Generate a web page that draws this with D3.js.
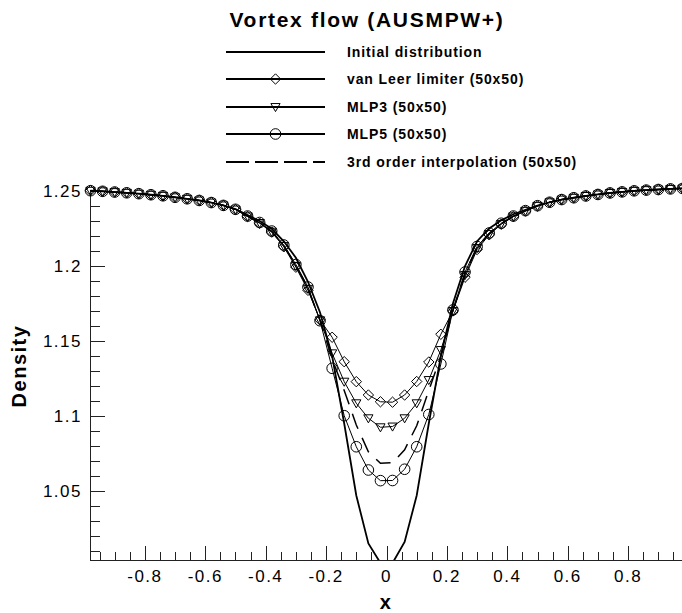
<!DOCTYPE html>
<meta charset="utf-8">
<script src="https://d3js.org/d3.v7.min.js"></script>
<style>
body { margin: 0; background: #fff; }
text { font-family: "Liberation Sans", Arial, sans-serif; fill: #000; }
.tick-label { font-size: 17px; letter-spacing: 1.5px; }
.axis-title { font-size: 20px; font-weight: bold; letter-spacing: 1.5px; }
.legend-text { font-size: 14px; font-weight: bold; letter-spacing: 0.9px; }
</style>
<div id="chart"></div>
<script>

// cell centres of the 50x50 grid
var xs = [-0.98, -0.94, -0.90, -0.86, -0.82, -0.78, -0.74, -0.70, -0.66, -0.62,
          -0.58, -0.54, -0.50, -0.46, -0.42, -0.38, -0.34, -0.30, -0.26, -0.22,
          -0.18, -0.14, -0.10, -0.06, -0.02,  0.02,  0.06,  0.10,  0.14,  0.18,
           0.22,  0.26,  0.30,  0.34,  0.38,  0.42,  0.46,  0.50,  0.54,  0.58,
           0.62,  0.66,  0.70,  0.74,  0.78,  0.82,  0.86,  0.90,  0.94,  0.98];

var initial = [1.2502, 1.2498, 1.2493, 1.2488, 1.2482, 1.2475, 1.2468, 1.2458, 1.2448, 1.2437,
               1.2423, 1.2404, 1.2380, 1.2340, 1.2300, 1.2248, 1.2165, 1.2055, 1.1895, 1.1690,
               1.1400, 1.0950, 1.0470, 1.0150, 1.0020, 1.0020, 1.0160, 1.0470, 1.0950, 1.1400,
               1.1750, 1.2000, 1.2165, 1.2250, 1.2305, 1.2345, 1.2375, 1.2402, 1.2425, 1.2443,
               1.2455, 1.2467, 1.2477, 1.2487, 1.2494, 1.2501, 1.2506, 1.2510, 1.2514, 1.2517];

var vanLeer = [1.2502, 1.2498, 1.2493, 1.2488, 1.2482, 1.2475, 1.2468, 1.2458, 1.2448, 1.2437,
               1.2423, 1.2404, 1.2376, 1.2330, 1.2285, 1.2226, 1.2128, 1.1992, 1.1838, 1.1640,
               1.1525, 1.1362, 1.1229, 1.1140, 1.1095, 1.1092, 1.1140, 1.1230, 1.1360, 1.1545,
               1.1700, 1.1925, 1.2110, 1.2208, 1.2278, 1.2329, 1.2366, 1.2400, 1.2425, 1.2443,
               1.2455, 1.2467, 1.2477, 1.2487, 1.2494, 1.2501, 1.2506, 1.2510, 1.2514, 1.2517];

var mlp3 = [1.2502, 1.2498, 1.2493, 1.2488, 1.2482, 1.2475, 1.2468, 1.2458, 1.2448, 1.2437,
            1.2423, 1.2404, 1.2377, 1.2331, 1.2287, 1.2229, 1.2134, 1.2000, 1.1848, 1.1638,
            1.1418, 1.1229, 1.1085, 1.0985, 1.0925, 1.0930, 1.0985, 1.1085, 1.1240, 1.1440,
            1.1700, 1.1940, 1.2120, 1.2213, 1.2281, 1.2331, 1.2368, 1.2401, 1.2425, 1.2443,
            1.2455, 1.2467, 1.2477, 1.2487, 1.2494, 1.2501, 1.2506, 1.2510, 1.2514, 1.2517];

var mlp5 = [1.2502, 1.2498, 1.2493, 1.2488, 1.2482, 1.2475, 1.2468, 1.2458, 1.2448, 1.2437,
            1.2423, 1.2404, 1.2378, 1.2333, 1.2290, 1.2233, 1.2140, 1.2010, 1.1860, 1.1635,
            1.1318, 1.1002, 1.0795, 1.0640, 1.0569, 1.0570, 1.0645, 1.0795, 1.1010, 1.1347,
            1.1707, 1.1960, 1.2130, 1.2220, 1.2285, 1.2333, 1.2369, 1.2402, 1.2425, 1.2443,
            1.2455, 1.2467, 1.2477, 1.2487, 1.2494, 1.2501, 1.2506, 1.2510, 1.2514, 1.2517];

var third = [1.2502, 1.2498, 1.2493, 1.2488, 1.2482, 1.2475, 1.2468, 1.2458, 1.2448, 1.2437,
             1.2423, 1.2404, 1.2377, 1.2332, 1.2288, 1.2231, 1.2137, 1.2005, 1.1853, 1.1637,
             1.1380, 1.1170, 1.0940, 1.0762, 1.0685, 1.0688, 1.0775, 1.0935, 1.1170, 1.1400,
             1.1705, 1.1952, 1.2126, 1.2217, 1.2283, 1.2332, 1.2368, 1.2401, 1.2425, 1.2443,
             1.2455, 1.2467, 1.2477, 1.2487, 1.2494, 1.2501, 1.2506, 1.2510, 1.2514, 1.2517];

var xTicks = [-0.8, -0.6, -0.4, -0.2, 0, 0.2, 0.4, 0.6, 0.8];
var yTicks = [1.05, 1.1, 1.15, 1.2, 1.25];

var series = [
  {name: "Initial distribution",          values: initial, marker: null,       dash: null,    width: 1.8},
  {name: "van Leer limiter (50x50)",      values: vanLeer, marker: "diamond",  dash: null,    width: 1},
  {name: "MLP3 (50x50)",                  values: mlp3,    marker: "triangle", dash: null,    width: 1},
  {name: "MLP5 (50x50)",                  values: mlp5,    marker: "circle",   dash: null,    width: 1},
  {name: "3rd order interpolation (50x50)", values: third, marker: null,       dash: "16,10", width: 1.5}
];

var W = 682, H = 613;

var svg = d3.select("#chart")
  .append("svg")
    .attr("width", W)
    .attr("height", H);

var x = d3.scaleLinear()
  .domain([-0.98, 0.98])
  .range([90.5, 682.5]);

var y = d3.scaleLinear()
  .domain([1.004, 1.25])
  .range([560, 191]);

// clip only the bottom (the initial profile drops below the axis)
svg.append("clipPath").attr("id", "clip")
  .append("rect")
    .attr("x", 85).attr("y", 0)
    .attr("width", 600).attr("height", 560);

// axes: left and bottom only, ticks pointing in
var axisColor = "#222";
svg.append("line")
  .attr("x1", 90.5).attr("x2", 90.5).attr("y1", 190).attr("y2", 560)
  .attr("stroke", axisColor).attr("stroke-width", 1);
svg.append("line")
  .attr("x1", 90).attr("x2", 682).attr("y1", 560.5).attr("y2", 560.5)
  .attr("stroke", axisColor).attr("stroke-width", 1);

var yMinor = d3.range(101, 126).map(function(d) { return d / 100; });
svg.append("g").selectAll("line")
  .data(yMinor)
  .enter().append("line")
    .attr("x1", 90)
    .attr("x2", function(d) { return Math.round(d * 100) % 5 === 0 ? 105 : 100; })
    .attr("y1", function(d) { return Math.round(y(d)) + 0.5; })
    .attr("y2", function(d) { return Math.round(y(d)) + 0.5; })
    .attr("stroke", axisColor);

var xMinor = d3.range(-19, 20).map(function(d) { return d * 0.05; });
svg.append("g").selectAll("line")
  .data(xMinor)
  .enter().append("line")
    .attr("x1", function(d) { return Math.round(x(d)) + 0.5; })
    .attr("x2", function(d) { return Math.round(x(d)) + 0.5; })
    .attr("y1", 560)
    .attr("y2", function(d) { return Math.abs(Math.round(d * 20)) % 4 === 0 ? 546 : 552; })
    .attr("stroke", axisColor);

svg.append("g").selectAll("text")
  .data(yTicks)
  .enter().append("text")
    .attr("class", "tick-label")
    .attr("x", 82)
    .attr("y", function(d) { return y(d) + 6; })
    .attr("text-anchor", "end")
    .text(function(d) { return String(d); });

svg.append("g").selectAll("text")
  .data(xTicks)
  .enter().append("text")
    .attr("class", "tick-label")
    .attr("x", function(d) { return x(d); })
    .attr("y", 582)
    .attr("text-anchor", "middle")
    .text(function(d) { return String(d); });

svg.append("text")
  .attr("class", "axis-title")
  .attr("transform", "translate(26,366) rotate(-90)")
  .attr("text-anchor", "middle")
  .text("Density");

svg.append("text")
  .attr("class", "axis-title")
  .attr("x", 386)
  .attr("y", 609)
  .attr("text-anchor", "middle")
  .text("x");

// markers
function drawMarker(g, type, cx, cy) {
  if (type === "circle") {
    g.append("circle").attr("cx", cx).attr("cy", cy).attr("r", 5.3)
      .attr("fill", "none").attr("stroke", "#000").attr("stroke-width", 1);
  } else if (type === "diamond") {
    var s = 5.2;
    g.append("path")
      .attr("d", "M" + cx + "," + (cy - s) + "L" + (cx + s) + "," + cy + "L" + cx + "," + (cy + s) + "L" + (cx - s) + "," + cy + "Z")
      .attr("fill", "none").attr("stroke", "#000").attr("stroke-width", 1);
  } else if (type === "triangle") {
    var h = 4.6;
    g.append("path")
      .attr("d", "M" + (cx - h) + "," + (cy - h * 0.75) + "L" + (cx + h) + "," + (cy - h * 0.75) + "L" + cx + "," + (cy + h) + "Z")
      .attr("fill", "none").attr("stroke", "#000").attr("stroke-width", 1);
  }
}

var line = d3.line()
  .x(function(d, i) { return x(xs[i]); })
  .y(function(d) { return y(d); });

var plot = svg.append("g").attr("clip-path", "url(#clip)");

series.forEach(function(s) {
  plot.append("path")
    .datum(s.values)
    .attr("d", line)
    .attr("fill", "none")
    .attr("stroke", "#000")
    .attr("stroke-width", s.width)
    .attr("stroke-dasharray", s.dash);
  if (s.marker) {
    var g = svg.append("g");
    s.values.forEach(function(v, i) { drawMarker(g, s.marker, x(xs[i]), y(v)); });
  }
});

// title + legend
svg.append("text")
  .attr("x", 367)
  .attr("y", 27)
  .attr("text-anchor", "middle")
  .style("font-size", "21px")
  .style("font-weight", "bold")
  .style("letter-spacing", "1.7px")
  .text("Vortex flow (AUSMPW+)");

var legendY = [52, 79, 107, 134, 162];
series.forEach(function(s, i) {
  var ly = legendY[i];
  svg.append("line")
    .attr("x1", 226).attr("x2", 325).attr("y1", ly).attr("y2", ly)
    .attr("stroke", "#000")
    .attr("stroke-width", 2)
    .attr("stroke-dasharray", s.dash ? "23,6" : null);
  if (s.marker) drawMarker(svg.append("g"), s.marker, 275.5, ly);
  svg.append("text")
    .attr("class", "legend-text")
    .attr("x", 347)
    .attr("y", ly + 5)
    .text(s.name);
});

</script>
